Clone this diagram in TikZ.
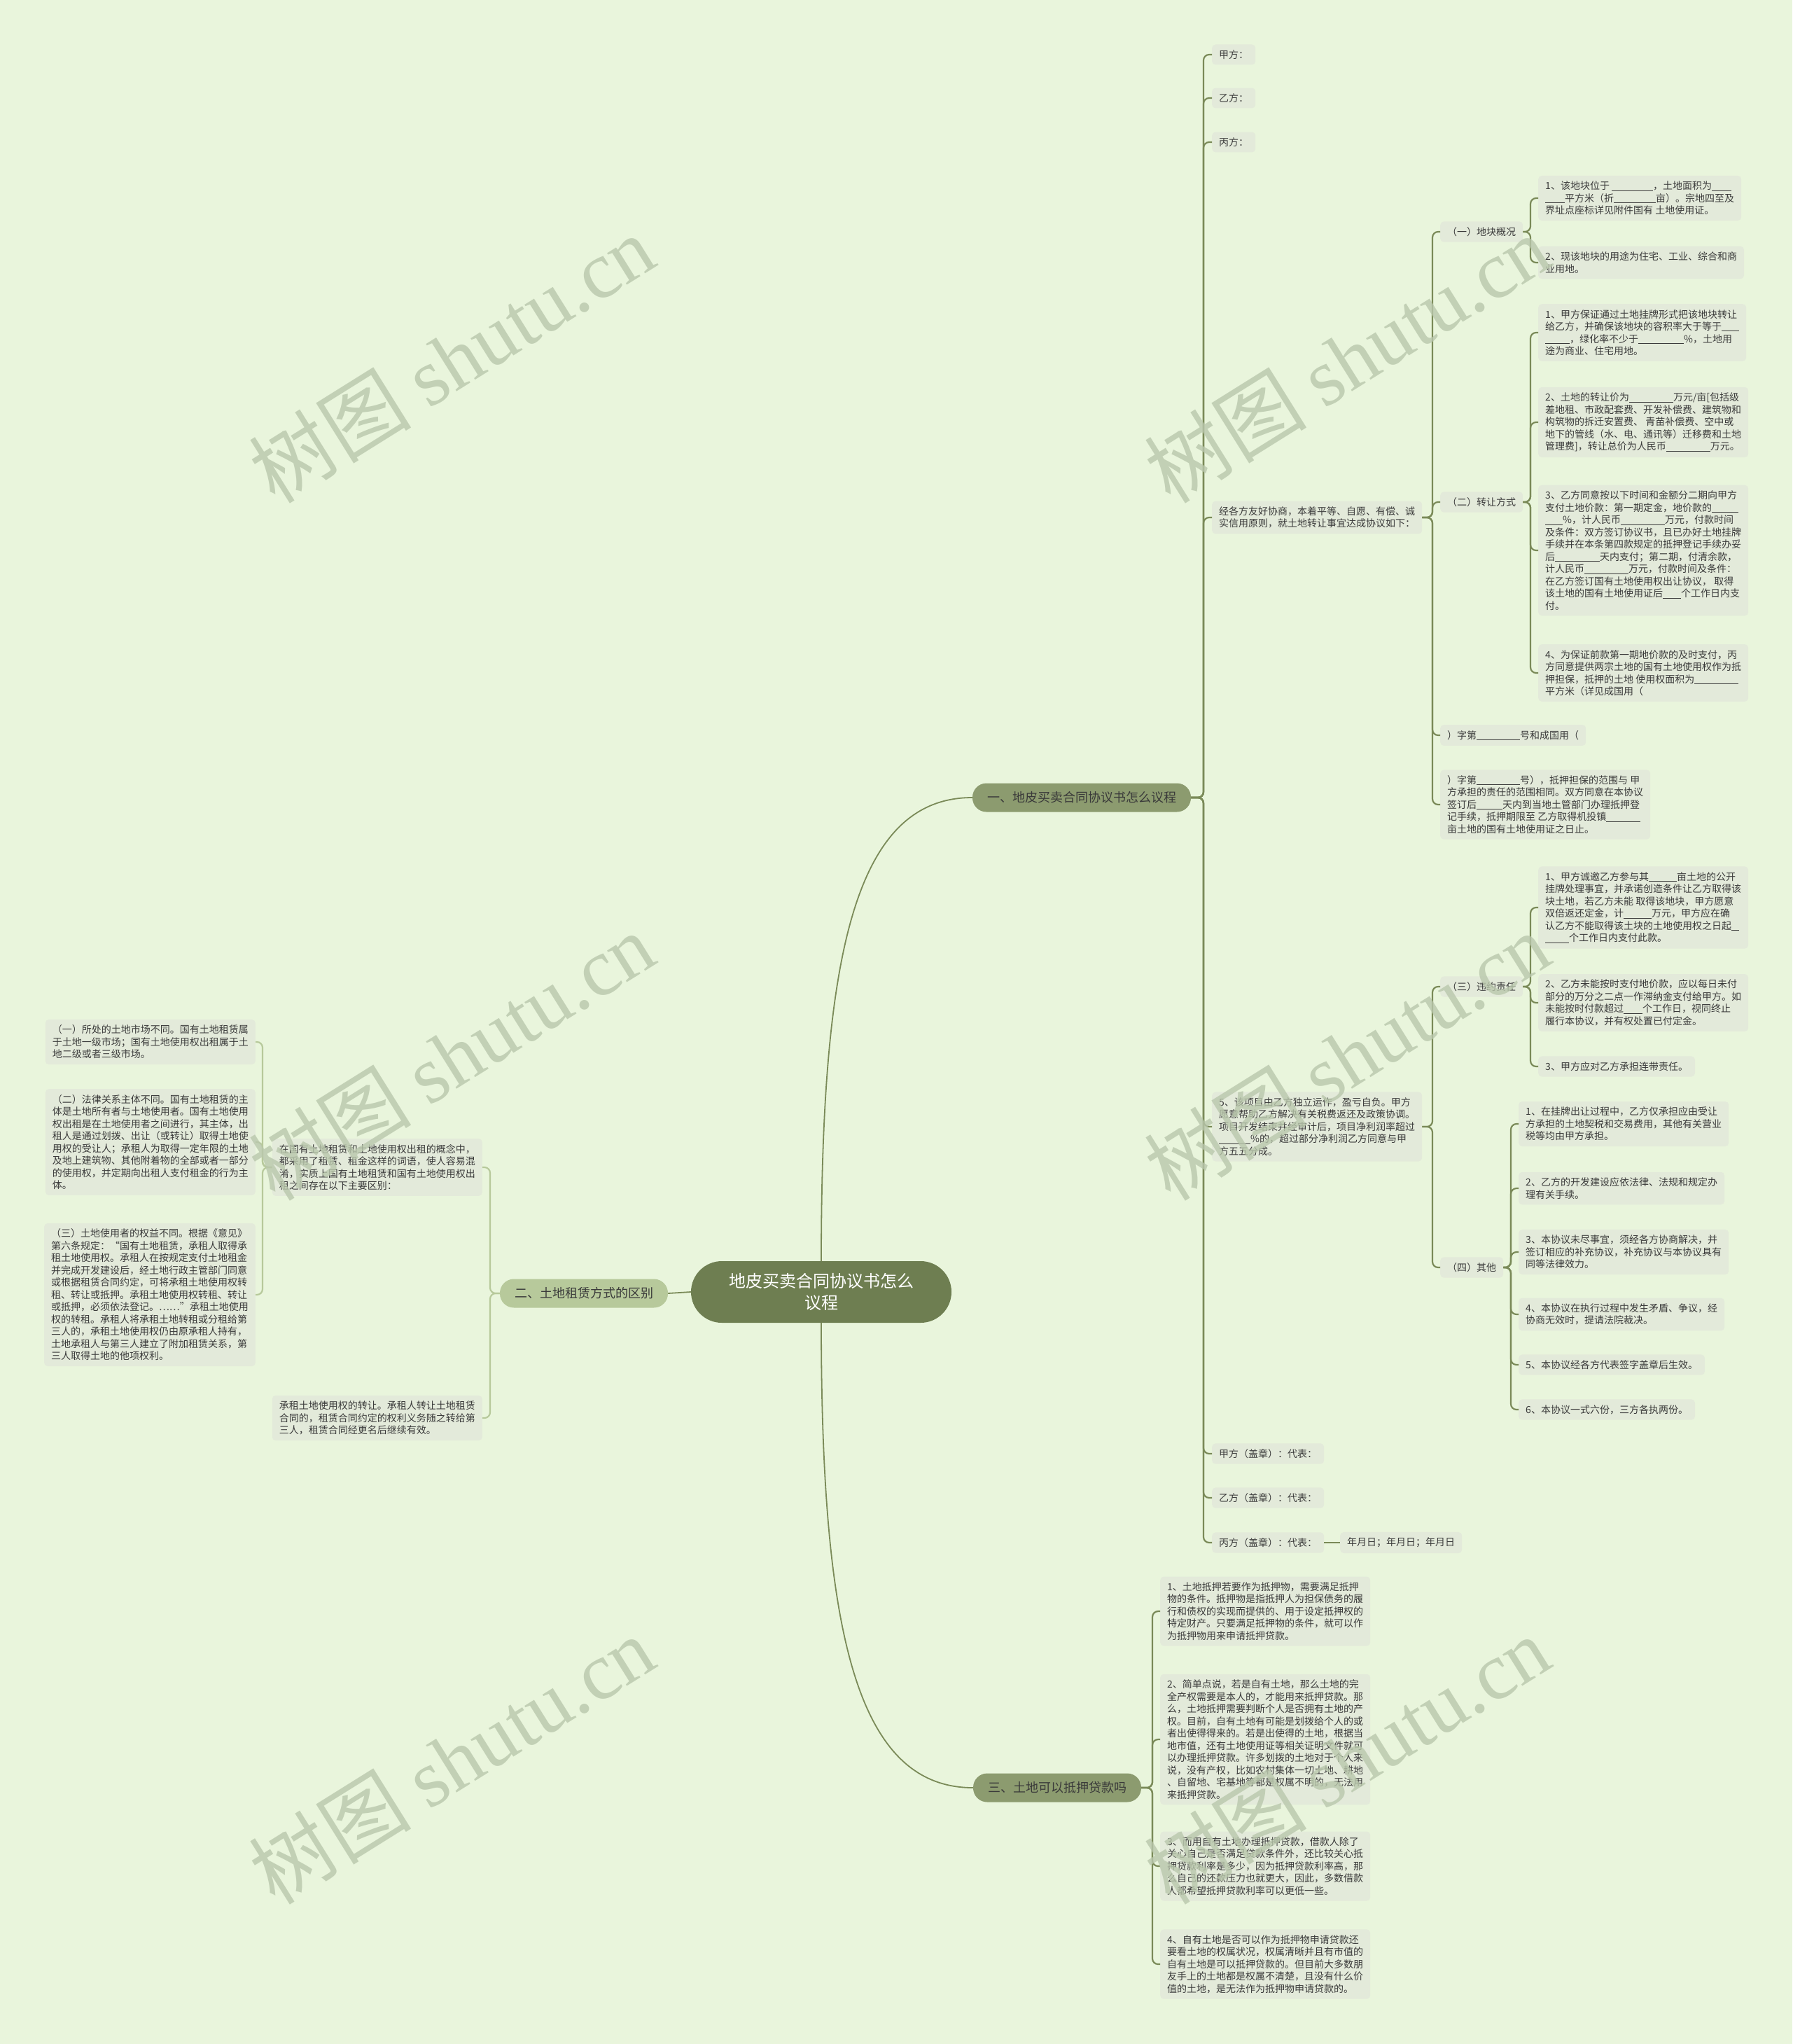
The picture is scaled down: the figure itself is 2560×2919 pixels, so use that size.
\documentclass[tikz,border=0pt]{standalone}
\usepackage{fontspec}
\setmainfont{Noto Sans CJK SC}
\newfontfamily\wmser{Liberation Serif}
\definecolor{bgc}{HTML}{E9F5DC}
\definecolor{lfc}{HTML}{E3EADA}
\definecolor{rootc}{HTML}{6E7E51}
\definecolor{brc}{HTML}{8C9B6F}
\definecolor{brl}{HTML}{B7C99B}
\definecolor{lnc}{HTML}{7A8A58}
\definecolor{txt}{HTML}{3A3A3A}
\definecolor{wmc}{HTML}{B9C7AC}
\newcommand\blnk[1]{\rule[-1.8pt]{#1pt}{0.9pt}}

\begin{document}
\begin{tikzpicture}[x=1pt, y=-1pt,
	   root/.style={fill=rootc, text=white, rounded corners=44pt, minimum width=372pt, minimum height=88pt, align=center, font=\fontsize{24pt}{31pt}\selectfont},
	   br/.style={fill=brc, text=txt, rounded corners=20pt, minimum height=41pt, inner xsep=21pt, font=\fontsize{18pt}{22pt}\selectfont},
	   lf/.style={fill=lfc, text=txt, rounded corners=5pt, inner xsep=10pt, inner ysep=8pt, align=left, font=\fontsize{14pt}{17.5pt}\selectfont},
	   ln/.style={draw=lnc, line width=2.2pt, rounded corners=8pt},
	   rl/.style={draw=lnc, line width=1.8pt},
	   wm/.style={text=wmc, opacity=0.8, rotate=32, font=\fontsize{116pt}{116pt}\selectfont}]
	  \fill[bgc] (0,0) rectangle (2560,2919);
	  \useasboundingbox (0,0) rectangle (2560,2919);

	  \node[root] (root) at (1173,1845) {地皮买卖合同协议书怎么\\议程};
	  \node[br] (b1) at (1545,1139) {一、地皮买卖合同协议书怎么议程};
	  \node[br, fill=brl] (b2) at (834,1847) {二、土地租赁方式的区别};
	  \node[br] (b3) at (1510,2553) {三、土地可以抵押贷款吗};

	  \node[lf, anchor=west] (jia) at (1731,78) {甲方：};
	  \node[lf, anchor=west] (yi) at (1731,140) {乙方：};
	  \node[lf, anchor=west] (bing) at (1731,203) {丙方：};
	  \node[lf, anchor=west] (xs) at (1731,739) {经各方友好协商，本着平等、自愿、有偿、诚\\实信用原则，就土地转让事宜达成协议如下：};
	  \node[lf, anchor=west] (xm) at (1731,1609) {5、该项目由乙方独立运作，盈亏自负。甲方\\愿意帮助乙方解决有关税费返还及政策协调。\\项目开发结束并经审计后，项目净利润率超过\\\blnk{45}\%的，超过部分净利润乙方同意与甲\\方五五分成。};
	  \node[lf, anchor=west] (jiaz) at (1731,2076) {甲方（盖章）：代表：};
	  \node[lf, anchor=west] (yiz) at (1731,2139) {乙方（盖章）：代表：};
	  \node[lf, anchor=west] (bingz) at (1731,2203) {丙方（盖章）：代表：};
	  \node[lf, anchor=west] (rq) at (1914,2203) {年月日；年月日；年月日};

	  \node[lf, anchor=west] (gk) at (2057,331) {（一）地块概况};
	  \node[lf, anchor=west] (zr) at (2057,717) {（二）转让方式};
	  \node[lf, anchor=west] (zd) at (2057,1050) {）字第\blnk{62}号和成国用（};
	  \node[lf, anchor=west] (db) at (2057,1149) {）字第\blnk{62}号），抵押担保的范围与 甲\\方承担的责任的范围相同。双方同意在本协议\\签订后\blnk{37}天内到当地土管部门办理抵押登\\记手续，抵押期限至 乙方取得机投镇\blnk{49}\\亩土地的国有土地使用证之日止。};
	  \node[lf, anchor=west] (wy) at (2057,1409) {（三）违约责任};
	  \node[lf, anchor=west] (qt) at (2057,1810) {（四）其他};

	  \node[lf, anchor=west] (gk1) at (2197,283) {1、该地块位于 \blnk{59}，土地面积为\blnk{28}\\\blnk{28}平方米（折\blnk{60}亩）。宗地四至及\\界址点座标详见附件国有 土地使用证。};
	  \node[lf, anchor=west] (gk2) at (2197,375) {2、现该地块的用途为住宅、工业、综合和商\\业用地。};
	  \node[lf, anchor=west] (zr1) at (2197,475) {1、甲方保证通过土地挂牌形式把该地块转让\\给乙方，并确保该地块的容积率大于等于\blnk{25}\\\blnk{35}，绿化率不少于\blnk{65}\%，土地用\\途为商业、住宅用地。};
	  \node[lf, anchor=west] (zr2) at (2197,603) {2、土地的转让价为\blnk{63}万元/亩[包括级\\差地租、市政配套费、开发补偿费、建筑物和\\构筑物的拆迁安置费、 青苗补偿费、空中或\\地下的管线（水、电、通讯等）迁移费和土地\\管理费]，转让总价为人民币\blnk{63}万元。};
	  \node[lf, anchor=west] (zr3) at (2197,786) {3、乙方同意按以下时间和金额分二期向甲方\\支付土地价款：第一期定金，地价款的\blnk{38}\\\blnk{25}\%，计人民币\blnk{63}万元，付款时间\\及条件：双方签订协议书，且已办好土地挂牌\\手续并在本条第四款规定的抵押登记手续办妥\\后\blnk{64}天内支付；第二期，付清余款，\\计人民币\blnk{63}万元，付款时间及条件：\\在乙方签订国有土地使用权出让协议， 取得\\该土地的国有土地使用证后\blnk{26}个工作日内支\\付。};
	  \node[lf, anchor=west] (zr4) at (2197,961) {4、为保证前款第一期地价款的及时支付，丙\\方同意提供两宗土地的国有土地使用权作为抵\\押担保，抵押的土地 使用权面积为\blnk{63}\\平方米（详见成国用（};
	  \node[lf, anchor=west] (wy1) at (2197,1296) {1、甲方诚邀乙方参与其\blnk{40}亩土地的公开\\挂牌处理事宜，并承诺创造条件让乙方取得该\\块土地，若乙方未能 取得该地块，甲方愿意\\双倍返还定金，计\blnk{40}万元，甲方应在确\\认乙方不能取得该土块的土地使用权之日起\blnk{11}\\\blnk{34}个工作日内支付此款。};
	  \node[lf, anchor=west] (wy2) at (2197,1432) {2、乙方未能按时支付地价款，应以每日未付\\部分的万分之二点一作滞纳金支付给甲方。如\\未能按时付款超过\blnk{27}个工作日，视同终止\\履行本协议，并有权处置已付定金。};
	  \node[lf, anchor=west] (wy3) at (2197,1523) {3、甲方应对乙方承担连带责任。};
	  \node[lf, anchor=west] (qt1) at (2169,1605) {1、在挂牌出让过程中，乙方仅承担应由受让\\方承担的土地契税和交易费用，其他有关营业\\税等均由甲方承担。};
	  \node[lf, anchor=west] (qt2) at (2169,1697) {2、乙方的开发建设应依法律、法规和规定办\\理有关手续。};
	  \node[lf, anchor=west] (qt3) at (2169,1788) {3、本协议未尽事宜，须经各方协商解决，并\\签订相应的补充协议，补充协议与本协议具有\\同等法律效力。};
	  \node[lf, anchor=west] (qt4) at (2169,1877) {4、本协议在执行过程中发生矛盾、争议，经\\协商无效时，提请法院裁决。};
	  \node[lf, anchor=west] (qt5) at (2169,1949) {5、本协议经各方代表签字盖章后生效。};
	  \node[lf, anchor=west] (qt6) at (2169,2013) {6、本协议一式六份，三方各执两份。};

	  \node[lf, anchor=east] (gn) at (689,1667) {在国有土地租赁和土地使用权出租的概念中，\\都采用了租赁、租金这样的词语，使人容易混\\淆，实质上国有土地租赁和国有土地使用权出\\租之间存在以下主要区别：};
	  \node[lf, anchor=east] (zl) at (689,2025) {承租土地使用权的转让。承租人转让土地租赁\\合同的，租赁合同约定的权利义务随之转给第\\三人，租赁合同经更名后继续有效。};
	  \node[lf, anchor=east] (g1) at (365,1488) {（一）所处的土地市场不同。国有土地租赁属\\于土地一级市场；国有土地使用权出租属于土\\地二级或者三级市场。};
	  \node[lf, anchor=east] (g2) at (365,1631) {（二）法律关系主体不同。国有土地租赁的主\\体是土地所有者与土地使用者。国有土地使用\\权出租是在土地使用者之间进行，其主体，出\\租人是通过划拨、出让（或转让）取得土地使\\用权的受让人；承租人为取得一定年限的土地\\及地上建筑物、其他附着物的全部或者一部分\\的使用权，并定期向出租人支付租金的行为主\\体。};
	  \node[lf, anchor=east] (g3) at (365,1849) {（三）土地使用者的权益不同。根据《意见》\\第六条规定：“国有土地租赁，承租人取得承\\租土地使用权。承租人在按规定支付土地租金\\并完成开发建设后，经土地行政主管部门同意\\或根据租赁合同约定，可将承租土地使用权转\\租、转让或抵押。承租土地使用权转租、转让\\或抵押，必须依法登记。……”承租土地使用\\权的转租。承租人将承租土地转租或分租给第\\三人的，承租土地使用权仍由原承租人持有，\\土地承租人与第三人建立了附加租赁关系，第\\三人取得土地的他项权利。};

	  \node[lf, anchor=west] (m1) at (1657,2301) {1、土地抵押若要作为抵押物，需要满足抵押\\物的条件。抵押物是指抵押人为担保债务的履\\行和债权的实现而提供的、用于设定抵押权的\\特定财产。只要满足抵押物的条件，就可以作\\为抵押物用来申请抵押贷款。};
	  \node[lf, anchor=west] (m2) at (1657,2484) {2、简单点说，若是自有土地，那么土地的完\\全产权需要是本人的，才能用来抵押贷款。那\\么，土地抵押需要判断个人是否拥有土地的产\\权。目前，自有土地有可能是划拨给个人的或\\者出使得得来的。若是出使得的土地，根据当\\地市值，还有土地使用证等相关证明文件就可\\以办理抵押贷款。许多划拨的土地对于个人来\\说，没有产权，比如农村集体一切土地、耕地\\、自留地、宅基地等都是权属不明的，无法用\\来抵押贷款。};
	  \node[lf, anchor=west] (m3) at (1657,2665) {3、而用自有土地办理抵押贷款，借款人除了\\关心自己是否满足贷款条件外，还比较关心抵\\押贷款利率是多少，因为抵押贷款利率高，那\\么自己的还款压力也就更大，因此，多数借款\\人都希望抵押贷款利率可以更低一些。};
	  \node[lf, anchor=west] (m4) at (1657,2805) {4、自有土地是否可以作为抵押物申请贷款还\\要看土地的权属状况，权属清晰并且有市值的\\自有土地是可以抵押贷款的。但目前大多数朋\\友手上的土地都是权属不清楚，且没有什么价\\值的土地，是无法作为抵押物申请贷款的。};

	  \coordinate (k1) at (1719,1139);
	  \coordinate (kxs) at (2046,739);
	  \coordinate (kgk) at (2186,331);
	  \coordinate (kzr) at (2186,717);
	  \coordinate (kxm) at (2046,1609);
	  \coordinate (kwy) at (2186,1409);
	  \coordinate (kqt) at (2158,1810);
	  \coordinate (k3) at (1646,2553);
	  \coordinate (k2) at (700,1847);
	  \coordinate (kgn) at (375,1667);

	  \draw[rl] (root.north) .. controls +(0,-430) and +(-170,0) .. (b1.west);
	  \draw[rl] (root.south) .. controls +(0,430) and +(-170,0) .. (b3.west);
	  \draw[rl] (root.west) -- (b2.east);

	  \draw[ln] (b1.east) -- (k1) |- (jia.west); \draw[ln] (b1.east) -- (k1) |- (yi.west); \draw[ln] (b1.east) -- (k1) |- (bing.west);
	  \draw[ln] (b1.east) -- (k1) |- (xs.west); \draw[ln] (b1.east) -- (k1) |- (xm.west);
	  \draw[ln] (b1.east) -- (k1) |- (jiaz.west); \draw[ln] (b1.east) -- (k1) |- (yiz.west); \draw[ln] (b1.east) -- (k1) |- (bingz.west);
	  \draw[ln] (bingz) -- (rq);
	  \draw[ln] (xs.east) -- (kxs) |- (gk.west); \draw[ln] (xs.east) -- (kxs) |- (zr.west); \draw[ln] (xs.east) -- (kxs) |- (zd.west); \draw[ln] (xs.east) -- (kxs) |- (db.west);
	  \draw[ln] (gk.east) -- (kgk) |- (gk1.west); \draw[ln] (gk.east) -- (kgk) |- (gk2.west);
	  \draw[ln] (zr.east) -- (kzr) |- (zr1.west); \draw[ln] (zr.east) -- (kzr) |- (zr2.west); \draw[ln] (zr.east) -- (kzr) |- (zr3.west); \draw[ln] (zr.east) -- (kzr) |- (zr4.west);
	  \draw[ln] (xm.east) -- (kxm) |- (wy.west); \draw[ln] (xm.east) -- (kxm) |- (qt.west);
	  \draw[ln] (wy.east) -- (kwy) |- (wy1.west); \draw[ln] (wy.east) -- (kwy) |- (wy2.west); \draw[ln] (wy.east) -- (kwy) |- (wy3.west);
	  \draw[ln] (qt.east) -- (kqt) |- (qt1.west); \draw[ln] (qt.east) -- (kqt) |- (qt2.west); \draw[ln] (qt.east) -- (kqt) |- (qt3.west);
	  \draw[ln] (qt.east) -- (kqt) |- (qt4.west); \draw[ln] (qt.east) -- (kqt) |- (qt5.west); \draw[ln] (qt.east) -- (kqt) |- (qt6.west);
	  \draw[ln, draw=brl] (b2.west) -- (k2) |- (gn.east); \draw[ln, draw=brl] (b2.west) -- (k2) |- (zl.east);
	  \draw[ln, draw=brl] (gn.west) -- (kgn) |- (g1.east); \draw[ln, draw=brl] (gn.west) -- (kgn) |- (g2.east); \draw[ln, draw=brl] (gn.west) -- (kgn) |- (g3.east);
	  \draw[ln] (b3.east) -- (k3) |- (m1.west); \draw[ln] (b3.east) -- (k3) |- (m2.west); \draw[ln] (b3.east) -- (k3) |- (m3.west); \draw[ln] (b3.east) -- (k3) |- (m4.west);

	  \node[wm] (w1) at (645,512) {树图 {\wmser shutu.cn}};
	  \node[wm] (w2) at (1924,512) {树图 {\wmser shutu.cn}};
	  \node[wm] (w3) at (645,1508) {树图 {\wmser shutu.cn}};
	  \node[wm] (w4) at (1924,1508) {树图 {\wmser shutu.cn}};
	  \node[wm] (w5) at (645,2513) {树图 {\wmser shutu.cn}};
	  \node[wm] (w6) at (1924,2513) {树图 {\wmser shutu.cn}};
	\end{tikzpicture}
\end{document}
